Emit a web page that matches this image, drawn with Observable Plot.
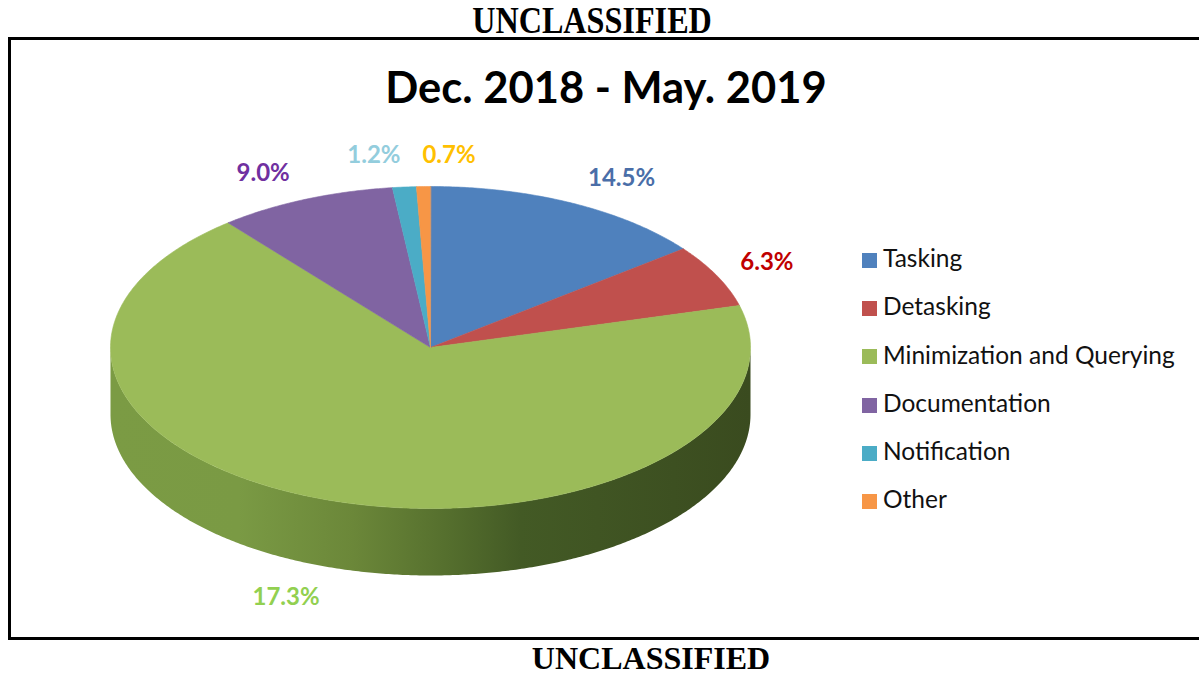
<!DOCTYPE html>
<html>
<head>
<meta charset="utf-8">
<script src="https://cdn.jsdelivr.net/npm/d3@7"></script>
<script src="https://cdn.jsdelivr.net/npm/@observablehq/plot@0.6"></script>
<style>
  body { margin: 0; background: #fff; }
  #page { position: relative; width: 1199px; height: 675px; overflow: hidden; background: #fff; }
  #chart { position: absolute; left: 0; top: 0; }
  .marking { position: absolute; font-family: "Liberation Serif", "Times New Roman", serif; font-weight: bold; white-space: nowrap; color: #000; }
  #markTop { font-size: 37px; line-height: 1; top: 2px; left: 592px; transform: translateX(-50%) scaleX(0.87); }
  #markBottom { font-size: 32px; line-height: 0.8; top: 646px; left: 651px; transform: translateX(-50%); }
  #frame { position: absolute; left: 8px; top: 37px; width: 1300px; height: 597px; border-left: 3px solid #000; border-top: 3px solid #000; border-bottom: 3px solid #000; }
  #title { position: absolute; top: 65px; left: 606px; transform: translateX(-50%); font-family: Lato, "Open Sans", sans-serif; font-weight: bold; font-size: 43.5px; line-height: 1; white-space: nowrap; color: #000; }
  #legend { position: absolute; left: 862px; top: 0; font-family: Lato, "Open Sans", sans-serif; font-size: 24.5px; color: #111; }
  .item { position: absolute; left: 0; white-space: nowrap; line-height: 1; }
  .item .sw { position: absolute; left: 0; width: 15px; height: 15px; }
  .item .lb { position: absolute; left: 21px; top: 0; }
</style>
</head>
<body>
<div id="page">
  <div id="frame"></div>
  <div id="chart"></div>
  <div class="marking" id="markTop">UNCLASSIFIED</div>
  <div id="title">Dec. 2018 - May. 2019</div>
  <div id="legend"></div>
  <div class="marking" id="markBottom">UNCLASSIFIED</div>
</div>
<script>
// ---- data ----
const categories = ["Tasking", "Detasking", "Minimization and Querying", "Documentation", "Notification", "Other"];
const shares = [14.5, 6.3, 68.3, 9.0, 1.2, 0.7];          // slice sizes (percent)
const labelTexts = ["14.5%", "6.3%", "17.3%", "9.0%", "1.2%", "0.7%"]; // labels as printed
const sliceColors = ["#4f81bd", "#c0504d", "#9bbb59", "#8064a2", "#4bacc6", "#f79646"];
const labelColors = ["#4a6ea8", "#c00000", "#92d050", "#7030a0", "#93cddd", "#ffc000"];

// ---- layout (pixels) ----
const W = 1199, H = 675;
const cx = 430, cy = 347, rx = 320, ry = 161, depth = 67;
const proj = (t, dz = 0) => ({ x: cx + rx * Math.sin(t), y: cy - ry * Math.cos(t) + dz });

const rows = categories.map((c, i) => ({ cat: c, share: shares[i], label: labelTexts[i], color: sliceColors[i], labelColor: labelColors[i] }));
const arcs = d3.pie().sort(null).value(d => d.share).startAngle(0).endAngle(2 * Math.PI)(rows);

const step = Math.PI / 360;
const topPts = [];
const wallPts = [];
const labelData = [];
arcs.forEach((a, i) => {
  const d = a.data;
  topPts.push({ id: d.cat, color: d.color, x: cx, y: cy });
  const n = Math.max(2, Math.ceil((a.endAngle - a.startAngle) / step));
  for (let k = 0; k <= n; k++) {
    const t = a.startAngle + (a.endAngle - a.startAngle) * k / n;
    topPts.push({ id: d.cat, color: d.color, ...proj(t) });
  }
  // visible outer wall (front half)
  const w0 = Math.max(a.startAngle, Math.PI / 2), w1 = Math.min(a.endAngle, 3 * Math.PI / 2);
  if (w1 > w0) {
    const m = Math.max(2, Math.ceil((w1 - w0) / step));
    const top = [], bot = [];
    for (let k = 0; k <= m; k++) {
      const t = w0 + (w1 - w0) * k / m;
      top.push({ id: d.cat, ...proj(t) });
      bot.push({ id: d.cat, ...proj(t, depth) });
    }
    wallPts.push(...top, ...bot.reverse());
  }
  // label placement: outside the edge at the mid angle
  const mid = (a.startAngle + a.endAngle) / 2;
  const s = Math.sin(mid), c = Math.cos(mid);
  const front = c < 0;
  const e = proj(mid, front ? depth : 0);
  const dx = rx * s, dy = -ry * c, len = Math.hypot(dx, dy);
  const off = 24;
  labelData.push({
    x: e.x + dx / len * off, y: e.y + dy / len * off,
    text: d.label, color: d.labelColor,
    anchor: s > -0.03 ? "start" : "end",
    line: front ? "top" : "bottom"
  });
});

const labelMarks = [];
for (const anchor of ["start", "end"]) for (const line of ["top", "bottom"]) {
  labelMarks.push(Plot.text(labelData.filter(d => d.anchor === anchor && d.line === line), {
    x: "x", y: "y", text: "text", fill: "color",
    textAnchor: anchor, lineAnchor: line,
    fontFamily: "Lato, 'Open Sans', sans-serif", fontWeight: "bold", fontSize: 24
  }));
}

const plot = Plot.plot({
  width: W, height: H,
  margin: 0,
  x: { domain: [0, W], range: [0, W], axis: null },
  y: { domain: [0, H], range: [0, H], axis: null },
  color: { type: "identity" },
  style: { background: "transparent", overflow: "visible" },
  marks: [
    Plot.line(wallPts, { x: "x", y: "y", z: "id", fill: "url(#sideGrad)", stroke: "none", curve: "linear-closed" }),
    Plot.line(topPts, { x: "x", y: "y", z: "id", fill: "color", stroke: "color", strokeWidth: 0.6, curve: "linear-closed" }),
    ...labelMarks
  ]
});

// gradient for the pie's side wall
const svg = d3.select(plot);
const defs = svg.insert("defs", ":first-child");
const g = defs.append("linearGradient").attr("id", "sideGrad")
  .attr("gradientUnits", "userSpaceOnUse")
  .attr("x1", cx - rx).attr("x2", cx + rx).attr("y1", 0).attr("y2", 0);
[[0, "#7b9b44"], [0.2, "#7a9a44"], [0.38, "#6b8739"], [0.52, "#56702e"], [0.64, "#435a25"], [1, "#3a4b1f"]]
  .forEach(([o, col]) => g.append("stop").attr("offset", o).attr("stop-color", col));

document.getElementById("chart").appendChild(plot);

// legend
const legend = document.getElementById("legend");
const fs = 24.5;
categories.forEach((c, i) => {
  const baseline = 267.7 + i * 48.3;
  const top = baseline - 0.887 * fs;
  const item = document.createElement("div");
  item.className = "item";
  item.style.top = top + "px";
  const sw = document.createElement("div");
  sw.className = "sw";
  sw.style.background = sliceColors[i];
  sw.style.top = (baseline - 15 - top) + "px";
  const lb = document.createElement("div");
  lb.className = "lb";
  lb.textContent = c;
  item.appendChild(sw); item.appendChild(lb);
  legend.appendChild(item);
});
</script>
</body>
</html>
